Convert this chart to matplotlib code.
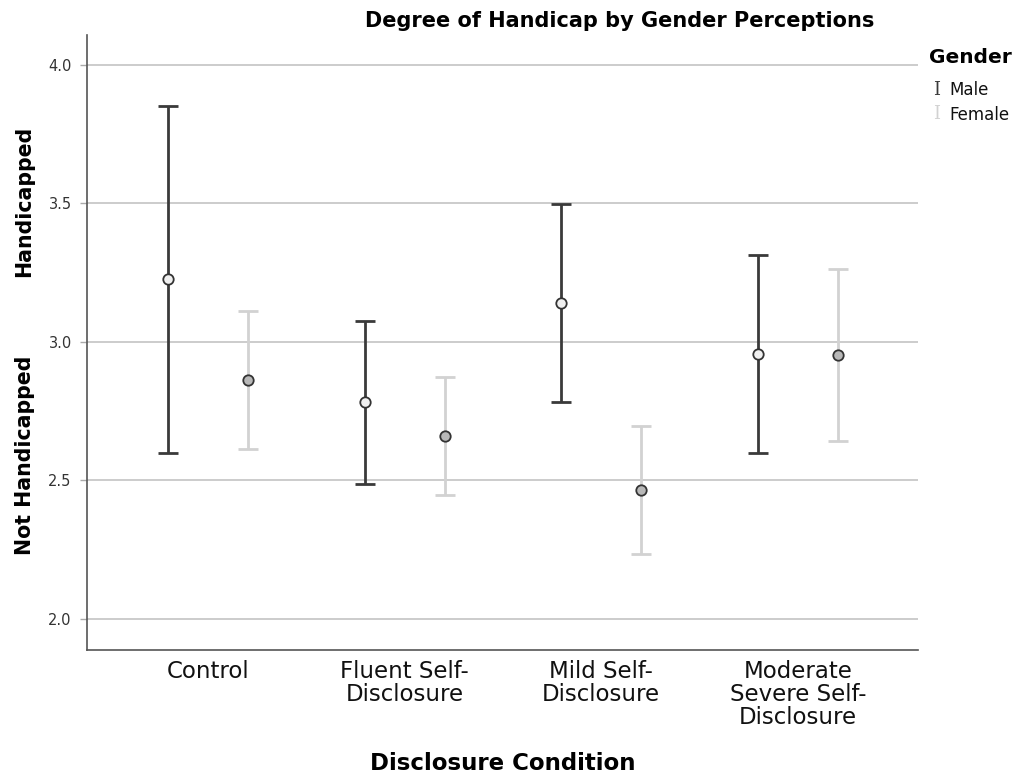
import numpy as np
import matplotlib
matplotlib.use("Agg")
import matplotlib.pyplot as plt
from matplotlib import font_manager

# Disclosure conditions and group statistics (mean with 95% CI bounds)
conditions = ["Control", "Fluent Self-\nDisclosure", "Mild Self-\nDisclosure",
              "Moderate\nSevere Self-\nDisclosure"]
male_mean = [3.226, 2.783, 3.140, 2.956]
male_low = [2.600, 2.489, 2.785, 2.598]
male_high = [3.852, 3.076, 3.497, 3.314]
female_mean = [2.863, 2.661, 2.464, 2.952]
female_low = [2.614, 2.449, 2.236, 2.641]
female_high = [3.112, 2.875, 2.698, 3.263]
y_ticks = [2.0, 2.5, 3.0, 3.5, 4.0]

plt.rcParams["font.family"] = ["DejaVu Sans"]

available = {f.name for f in font_manager.fontManager.ttflist}
narrow = "Liberation Sans Narrow" if "Liberation Sans Narrow" in available else "DejaVu Sans"

fig = plt.figure(figsize=(10.21, 7.8), dpi=100)
ax = fig.add_axes([0.0852, 0.1667, 0.8138, 0.7883])

x = np.arange(len(conditions))
offset = 0.203

male_col = "#3a3a3a"
female_col = "#d2d2d2"


def draw_group(xpos, mean, low, high, color, face):
    mean = np.asarray(mean)
    yerr = np.vstack([mean - np.asarray(low), np.asarray(high) - mean])
    ax.errorbar(xpos, mean, yerr=yerr, fmt="none", ecolor=color,
                elinewidth=2.0, capsize=7.2, capthick=2.0, zorder=3)
    ax.plot(xpos, mean, "o", markersize=7.5, markerfacecolor=face,
            markeredgecolor="#333333", markeredgewidth=1.3, linestyle="none",
            zorder=4)


draw_group(x - offset, male_mean, male_low, male_high, male_col, "#f0f0f0")
draw_group(x + offset, female_mean, female_low, female_high, female_col, "#b8b8b8")

ax.set_xlim(-0.615, 3.61)
ax.set_ylim(1.888, 4.108)
ax.set_yticks(y_ticks)
ax.set_yticklabels([f"{v:.1f}" for v in y_ticks], fontsize=10.5, color="#333333")
ax.set_xticks(x)
ax.set_xticklabels(conditions, fontsize=16.5, color="#111111", linespacing=1.0,
                   family=narrow)
ax.tick_params(axis="x", length=0, pad=7)
ax.tick_params(axis="y", length=5, color="#aaaaaa", width=1, pad=6)

ax.yaxis.grid(True, color="#c8c8c8", linewidth=1.3, zorder=0)
ax.set_axisbelow(True)
for side in ("top", "right"):
    ax.spines[side].set_visible(False)
for side in ("left", "bottom"):
    ax.spines[side].set_color("#555555")
    ax.spines[side].set_linewidth(1.2)

fig.text(503 / 1021, 1 - 763 / 780, "Disclosure Condition", ha="center",
         va="center", fontsize=16.5, fontweight="bold", family=narrow)
fig.text(0.607, 0.973, "Degree of Handicap by Gender Perceptions",
         ha="center", va="center", fontsize=15, fontweight="bold")

# Split y-axis label
fig.text(0.024, 0.742, "Handicapped", rotation=90, ha="center", va="center",
         fontsize=14.8, fontweight="bold")
fig.text(0.024, 0.416, "Not Handicapped", rotation=90, ha="center", va="center",
         fontsize=14.8, fontweight="bold")

# Legend
fig.text(0.910, 0.926, "Gender", ha="left", va="center", fontsize=14.5,
         fontweight="bold")
fig.text(0.914, 0.885, "I", ha="left", va="center", fontsize=13,
         family="DejaVu Serif", color=male_col)
fig.text(0.930, 0.884, "Male", ha="left", va="center", fontsize=12,
         color="#111111")
fig.text(0.914, 0.854, "I", ha="left", va="center", fontsize=13,
         family="DejaVu Serif", color=female_col)
fig.text(0.930, 0.853, "Female", ha="left", va="center", fontsize=12,
         color="#111111")

fig.savefig("out.png", dpi=100, facecolor="white")
